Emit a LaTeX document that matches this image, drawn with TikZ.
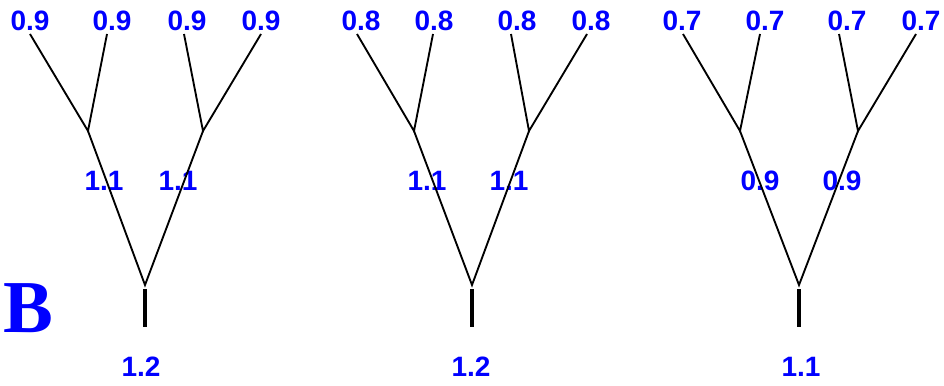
\documentclass[tikz,border=0pt]{standalone}
\usepackage{fontspec}
\newfontfamily\labfont{Liberation Sans}
\newfontfamily\serfont{Liberation Serif}
\begin{document}
\begin{tikzpicture}[x=0.75pt,y=-0.75pt]
\tikzset{
  lab/.style={text=blue,font=\labfont\bfseries\fontsize{21}{22}\selectfont,inner sep=0pt,anchor=center},
  branch/.style={draw=black,line width=1.4pt},
  stem/.style={draw=black,line width=3.2pt}
}
\useasboundingbox (0,0) rectangle (944,385);
\node[text=blue,font=\serfont\bfseries\fontsize{56}{60}\selectfont,inner sep=0pt,anchor=base west] (B) at (3,332) {B};
% ---------- tree 1 ----------
\node[lab] (t1l1) at (30,21) {0.9};
\node[lab] (t1l2) at (112,21) {0.9};
\node[lab] (t1l3) at (187,21) {0.9};
\node[lab] (t1l4) at (261,21) {0.9};
\node[lab] (t1m1) at (104,181) {1.1};
\node[lab] (t1m2) at (178,181) {1.1};
\node[lab] (t1r) at (141,367) {1.2};
\coordinate (t1a) at (30,34);
\coordinate (t1b) at (107,34);
\coordinate (t1c) at (184,34);
\coordinate (t1d) at (261,34);
\coordinate (t1i) at (88,131);
\coordinate (t1j) at (203,131);
\coordinate (t1o) at (145,285);
\coordinate (t1s) at (145,289);
\coordinate (t1e) at (145,327);
\draw[branch] (t1a) -- (t1i) -- (t1b);
\draw[branch] (t1c) -- (t1j) -- (t1d);
\draw[branch] (t1i) -- (t1o) -- (t1j);
\draw[stem] (t1s) -- (t1e);
% ---------- tree 2 ----------
\node[lab] (t2l1) at (361,21) {0.8};
\node[lab] (t2l2) at (434,21) {0.8};
\node[lab] (t2l3) at (517,21) {0.8};
\node[lab] (t2l4) at (591,21) {0.8};
\node[lab] (t2m1) at (427,181) {1.1};
\node[lab] (t2m2) at (509,181) {1.1};
\node[lab] (t2r) at (471,367) {1.2};
\coordinate (t2a) at (357,34);
\coordinate (t2b) at (433,34);
\coordinate (t2c) at (511,34);
\coordinate (t2d) at (587,34);
\coordinate (t2i) at (414,131);
\coordinate (t2j) at (529,131);
\coordinate (t2o) at (472,285);
\coordinate (t2s) at (472,289);
\coordinate (t2e) at (472,327);
\draw[branch] (t2a) -- (t2i) -- (t2b);
\draw[branch] (t2c) -- (t2j) -- (t2d);
\draw[branch] (t2i) -- (t2o) -- (t2j);
\draw[stem] (t2s) -- (t2e);
% ---------- tree 3 ----------
\node[lab] (t3l1) at (682,21) {0.7};
\node[lab] (t3l2) at (765,21) {0.7};
\node[lab] (t3l3) at (847,21) {0.7};
\node[lab] (t3l4) at (921,21) {0.7};
\node[lab] (t3m1) at (760,181) {0.9};
\node[lab] (t3m2) at (842,181) {0.9};
\node[lab] (t3r) at (801,367) {1.1};
\coordinate (t3a) at (683,34);
\coordinate (t3b) at (760,34);
\coordinate (t3c) at (839,34);
\coordinate (t3d) at (916,34);
\coordinate (t3i) at (740,131);
\coordinate (t3j) at (858,131);
\coordinate (t3o) at (799,285);
\coordinate (t3s) at (799,289);
\coordinate (t3e) at (799,327);
\draw[branch] (t3a) -- (t3i) -- (t3b);
\draw[branch] (t3c) -- (t3j) -- (t3d);
\draw[branch] (t3i) -- (t3o) -- (t3j);
\draw[stem] (t3s) -- (t3e);
\end{tikzpicture}
\end{document}
